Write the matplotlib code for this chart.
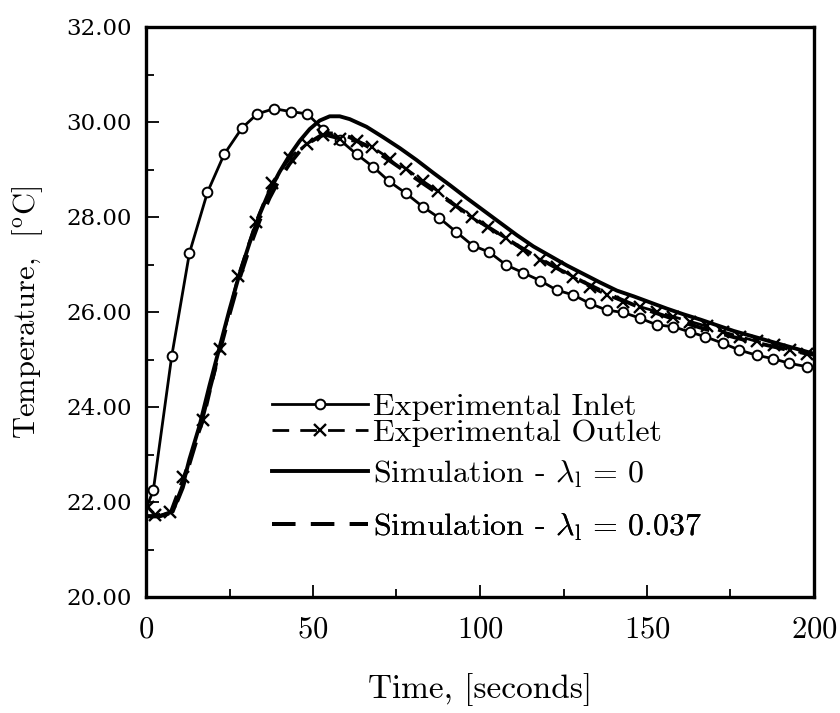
import matplotlib
matplotlib.use("Agg")
import matplotlib.pyplot as plt
from matplotlib.ticker import MultipleLocator, FormatStrFormatter

plt.rcParams['font.family'] = ['cmr10', 'DejaVu Serif']
plt.rcParams['mathtext.fontset'] = 'cm'
plt.rcParams['axes.formatter.use_mathtext'] = True

# ---------------- data ----------------
inlet_t = [0.0, 2.2, 7.7, 13.0, 18.4, 23.4, 28.7, 33.3, 38.3, 43.3, 48.3, 53.1, 58.1,
           63.1, 68.1, 72.8, 77.8, 82.8, 87.8, 92.8, 97.8, 102.8, 107.8, 112.8, 118.0,
           123.0, 127.9, 132.9, 137.9, 142.9, 147.9, 152.9, 157.9, 162.8, 167.4, 172.8,
           177.6, 182.8, 187.6, 192.6, 197.8]
inlet_T = [21.85, 22.25, 25.07, 27.24, 28.52, 29.32, 29.87, 30.17, 30.28, 30.22, 30.17,
           29.84, 29.62, 29.32, 29.05, 28.75, 28.50, 28.22, 27.98, 27.69, 27.40, 27.26,
           26.99, 26.83, 26.66, 26.46, 26.36, 26.18, 26.04, 25.99, 25.87, 25.73, 25.69,
           25.58, 25.48, 25.34, 25.20, 25.09, 25.02, 24.92, 24.85]

outlet_t = [0.5, 2.7, 7.3, 11.2, 17.2, 22.2, 27.6, 32.9, 37.6, 43.1, 48.1, 53.1, 58.1,
            63.1, 67.6, 73.1, 77.8, 83.0, 87.5, 92.8, 97.5, 102.5, 107.8, 112.8, 118.0,
            123.0, 127.9, 132.9, 137.9, 142.9, 147.9, 152.9, 157.9, 162.9, 167.9, 172.9,
            177.9, 182.9, 187.9, 192.9, 197.9]
outlet_T = [21.90, 21.72, 21.79, 22.53, 23.72, 25.23, 26.76, 27.90, 28.71, 29.24, 29.54,
            29.73, 29.64, 29.59, 29.48, 29.22, 29.02, 28.75, 28.54, 28.23, 27.99, 27.78,
            27.55, 27.31, 27.10, 26.95, 26.74, 26.53, 26.36, 26.22, 26.11, 26.01, 25.90,
            25.80, 25.70, 25.58, 25.48, 25.38, 25.30, 25.20, 25.12]

sim_t = [0, 4, 8, 11, 13, 16, 19, 22, 25, 28, 31, 34, 37, 40, 43, 46, 49, 52, 55, 58,
         61, 66, 71, 76, 81, 86, 91, 96, 101, 106, 111, 116, 121, 126, 131, 136, 141,
         146, 151, 156, 161, 166, 171, 176, 181, 186, 191, 196, 200]
sim0_T = [21.70, 21.70, 21.80, 22.35, 22.90, 23.60, 24.45, 25.25, 26.05, 26.80, 27.45,
          28.05, 28.55, 28.95, 29.30, 29.60, 29.85, 30.03, 30.12, 30.12, 30.06, 29.90,
          29.68, 29.45, 29.20, 28.93, 28.67, 28.40, 28.14, 27.88, 27.62, 27.38, 27.18,
          26.98, 26.80, 26.62, 26.45, 26.33, 26.20, 26.07, 25.95, 25.84, 25.72, 25.60,
          25.50, 25.40, 25.30, 25.20, 25.12]
sim037_T = [21.70, 21.70, 21.78, 22.30, 22.80, 23.50, 24.35, 25.15, 25.95, 26.70, 27.35,
            27.92, 28.40, 28.80, 29.12, 29.38, 29.57, 29.70, 29.76, 29.75, 29.68, 29.50,
            29.28, 29.04, 28.80, 28.56, 28.32, 28.08, 27.85, 27.63, 27.41, 27.20, 27.00,
            26.81, 26.63, 26.46, 26.30, 26.15, 26.02, 25.90, 25.78, 25.67, 25.57, 25.47,
            25.38, 25.30, 25.22, 25.15, 25.10]

labels = ["Experimental Inlet", "Experimental Outlet",
          r"Simulation - $\lambda_{\rm l}\,=\,0$", r"Simulation - $\lambda_{\rm l}\,=\,0.037$"]

# ---------------- figure ----------------
fig = plt.figure(figsize=(8.4, 7.13), dpi=100)
ax = fig.add_axes([146/840, 1-597/713, 668/840, 570/713])

l_in, = ax.plot(inlet_t, inlet_T, '-', color='black', lw=2.0, marker='o', ms=7,
                mfc='white', mec='black', mew=1.4, markevery=list(range(1, len(inlet_t))))
l_out, = ax.plot(outlet_t, outlet_T, color='black', lw=2.0, ls=(0, (6, 4)), marker='x',
                 ms=9, mew=1.7)
l_s0, = ax.plot(sim_t, sim0_T, '-', color='black', lw=2.8)
l_s1, = ax.plot(sim_t, sim037_T, color='black', lw=2.8, ls=(0, (6, 4)))

ax.set_xlim(0, 200)
ax.set_ylim(20, 32)
ax.xaxis.set_major_locator(MultipleLocator(50))
ax.xaxis.set_minor_locator(MultipleLocator(25))
ax.yaxis.set_major_locator(MultipleLocator(2))
ax.yaxis.set_minor_locator(MultipleLocator(1))
ax.yaxis.set_major_formatter(FormatStrFormatter('%.2f'))

ax.tick_params(which='both', direction='in', top=False, right=False, width=1.3)
ax.tick_params(which='major', length=9)
ax.tick_params(which='minor', length=5.5)
ax.tick_params(axis='x', labelsize=22, pad=14)
ax.tick_params(axis='y', pad=10)
for lab in ax.get_yticklabels():
    lab.set_fontfamily('DejaVu Serif')
    lab.set_fontsize(16.5)

for sp in ax.spines.values():
    sp.set_linewidth(2.4)

ax.set_xlabel("Time, [seconds]", fontsize=24)
ax.xaxis.set_label_coords(0.5, -0.133)
ax.set_ylabel(r"Temperature,  [$^{\rm o}$C]", fontsize=22)
ax.yaxis.set_label_coords(-0.151, 0.5)

# legend entries, each placed separately to reproduce the uneven spacing
handles = [l_in, l_out, l_s0, l_s1]
ypos = [0.334, 0.288, 0.216, 0.123]
for h, lab, yy in zip(handles, labels, ypos):
    lg = ax.legend([h], [lab], loc='center left', bbox_to_anchor=(0.189, yy),
                   frameon=False, fontsize=23, handlelength=3.0, handletextpad=0.15,
                   borderpad=0, borderaxespad=0, numpoints=1)
    ax.add_artist(lg)

fig.savefig("out.png", dpi=100)
